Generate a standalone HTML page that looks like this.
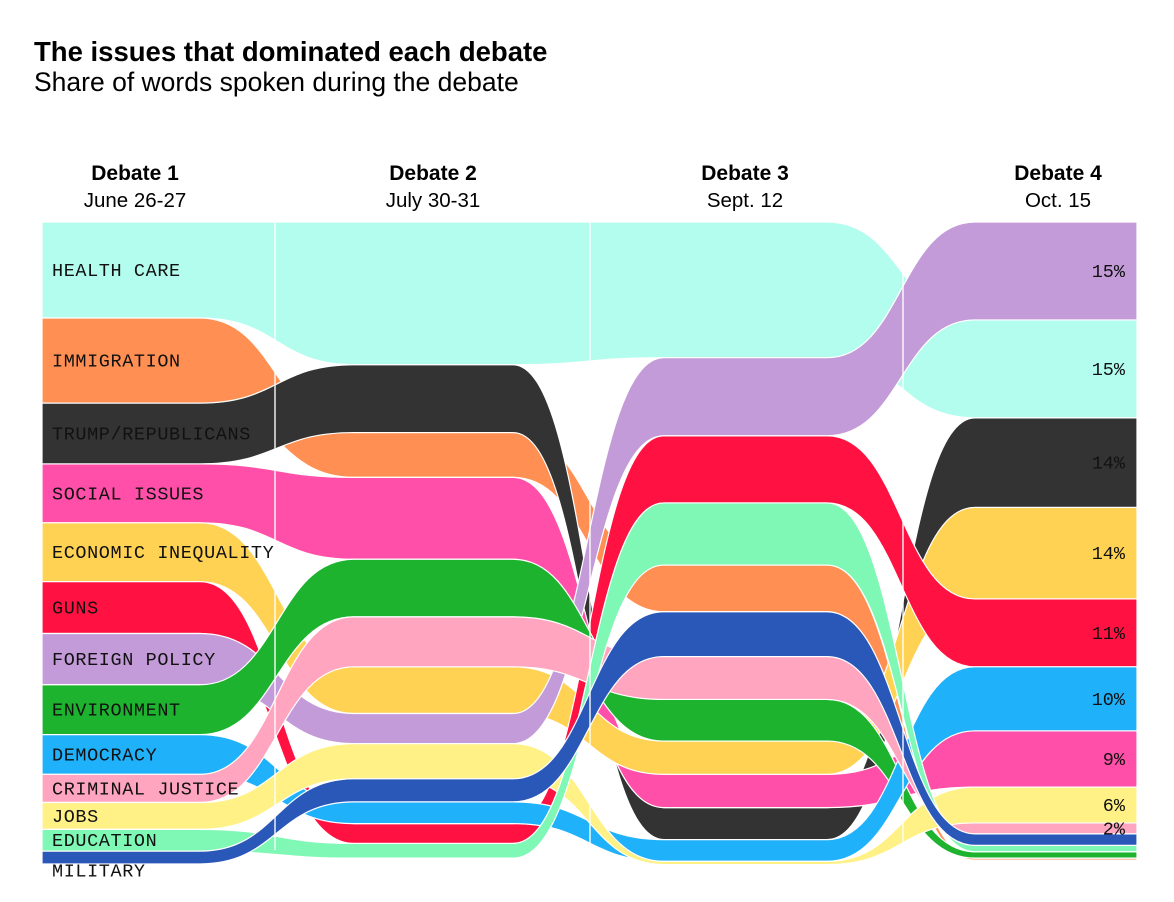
<!DOCTYPE html>
<html><head><meta charset="utf-8"><style>
body{margin:0;background:#fff;width:1174px;height:902px;overflow:hidden;font-family:"Liberation Sans",sans-serif}
svg{position:absolute;left:0;top:0}
</style></head><body>
<svg id="chart" width="1174" height="902">
<text x="34" y="61" font-size="27.5" font-weight="bold" fill="#000">The issues that dominated each debate</text>
<text x="34" y="91" font-size="26.5" fill="#000">Share of words spoken during the debate</text>
<g id="bands"></g><g id="labels"></g>
</svg>
<script>
const debates=["Debate 1","Debate 2","Debate 3","Debate 4"];
const dates=["June 26-27","July 30-31","Sept. 12","Oct. 15"];
const issues=["HEALTH CARE","IMMIGRATION","TRUMP/REPUBLICANS","SOCIAL ISSUES","ECONOMIC INEQUALITY","GUNS","FOREIGN POLICY","ENVIRONMENT","DEMOCRACY","CRIMINAL JUSTICE","JOBS","EDUCATION","MILITARY"];
const colors=["#b3fdef","#ff8f52","#333333","#ff4fa8","#ffd254","#ff1241","#c49bd9","#1db32f","#20b1fb","#ffa5bf","#fff185","#7ff7b5","#2a58b8"];
const d1=[15,13.3,9.5,9.2,9.2,8.1,8,7.8,6.2,4.4,4.2,3.4,2];
const d2=[22.3,7,10.6,12.8,7.3,3.1,4.7,9,3.4,7.8,5.5,2.3,3.6];
const d3=[21.2,7.3,5,5.2,5.2,10.5,12.2,6.5,3.4,6.7,0.5,9.7,7];
const d4=[15.3,0.3,14,8.8,14.3,10.6,15.3,1,10,1.7,5.6,1,1.8];
// stacking order (top to bottom) per debate, by issue index
const order1=[0,1,2,3,4,5,6,7,8,9,10,11,12];
const order2=[0,2,1,3,7,9,4,6,10,12,8,5,11];
const order3=[0,6,5,11,1,12,9,7,4,3,2,8,10];
const order4=[6,0,2,4,5,8,3,10,9,12,11,7,1];
const pctLabels=["15%","","14%","9%","14%","11%","15%","","10%","2%","6%","",""];
const series=[d1,d2,d3,d4];
const orders=[order1,order2,order3,order4];
const top0=222,pxPer=6.4;
const colX=[135,433,745,1058];
const flatA=[42,354,664,975], flatB=[200,513,827,1137];
function yScale(p){return top0+p*pxPer;}
const tops=[],bots=[];
series.forEach((vals,c)=>{
  tops[c]=[];bots[c]=[];let acc=0;
  orders[c].forEach(i=>{tops[c][i]=yScale(acc);acc+=vals[i];bots[c][i]=yScale(acc);});
});
const NS="http://www.w3.org/2000/svg";
const g=document.getElementById('bands');
function edge(ys,rev){
  let s="";
  if(!rev){
    s+=`M${flatA[0]},${ys[0]}`;
    for(let c=0;c<4;c++){
      s+=` L${flatB[c]},${ys[c]}`;
      if(c<3){const m=(flatB[c]+flatA[c+1])/2;s+=` C${m},${ys[c]} ${m},${ys[c+1]} ${flatA[c+1]},${ys[c+1]}`;}
    }
  }else{
    s+=` L${flatB[3]},${ys[3]}`;
    for(let c=3;c>=0;c--){
      s+=` L${flatA[c]},${ys[c]}`;
      if(c>0){const m=(flatB[c-1]+flatA[c])/2;s+=` C${m},${ys[c]} ${m},${ys[c-1]} ${flatB[c-1]},${ys[c-1]}`;}
    }
    s+=" Z";
  }
  return s;
}
issues.forEach((name,i)=>{
  const p=document.createElementNS(NS,'path');
  const t=[0,1,2,3].map(c=>tops[c][i]), b=[0,1,2,3].map(c=>bots[c][i]);
  p.setAttribute('d',edge(t,false)+edge(b,true));
  p.setAttribute('fill',colors[i]);p.setAttribute('stroke','#fff');p.setAttribute('stroke-width','1.2');
  
  
  g.appendChild(p);
});
[275,590,903].forEach(x=>{
  const l=document.createElementNS(NS,'line');
  l.setAttribute('x1',x);l.setAttribute('x2',x);l.setAttribute('y1',222);l.setAttribute('y2',850);
  l.setAttribute('stroke','#fff');l.setAttribute('stroke-width','1.5');l.setAttribute('opacity','0.9');
  
  
  g.appendChild(l);
});
const L=document.getElementById('labels');
function txt(x,y,s,attrs,name){
  const t=document.createElementNS(NS,'text');t.setAttribute('x',x);t.setAttribute('y',y);t.textContent=s;
  for(const k in attrs)t.setAttribute(k,attrs[k]);
  
  
  L.appendChild(t);return t;
}
debates.forEach((d,c)=>{
  txt(colX[c],180,d,{"font-size":21,"font-weight":"bold","text-anchor":"middle"},'debate-header');
  txt(colX[c],207,dates[c],{"font-size":20.5,"text-anchor":"middle"},'debate-date');
});
issues.forEach((name,i)=>{
  let y=(tops[0][i]+bots[0][i])/2+6;
  if(name==="MILITARY")y+=13;
  txt(52,y,name,{"font-size":18.5,"letter-spacing":"0.6","font-family":"'Liberation Mono',monospace","fill":"#111"},'issue-label');
  if(pctLabels[i]){
    const yy=(tops[3][i]+bots[3][i])/2+6;
    txt(1125,yy,pctLabels[i],{"font-size":18.5,"font-family":"'Liberation Mono',monospace","text-anchor":"end","fill":"#111"},'percent-label');
  }
});
</script>
</body></html>
